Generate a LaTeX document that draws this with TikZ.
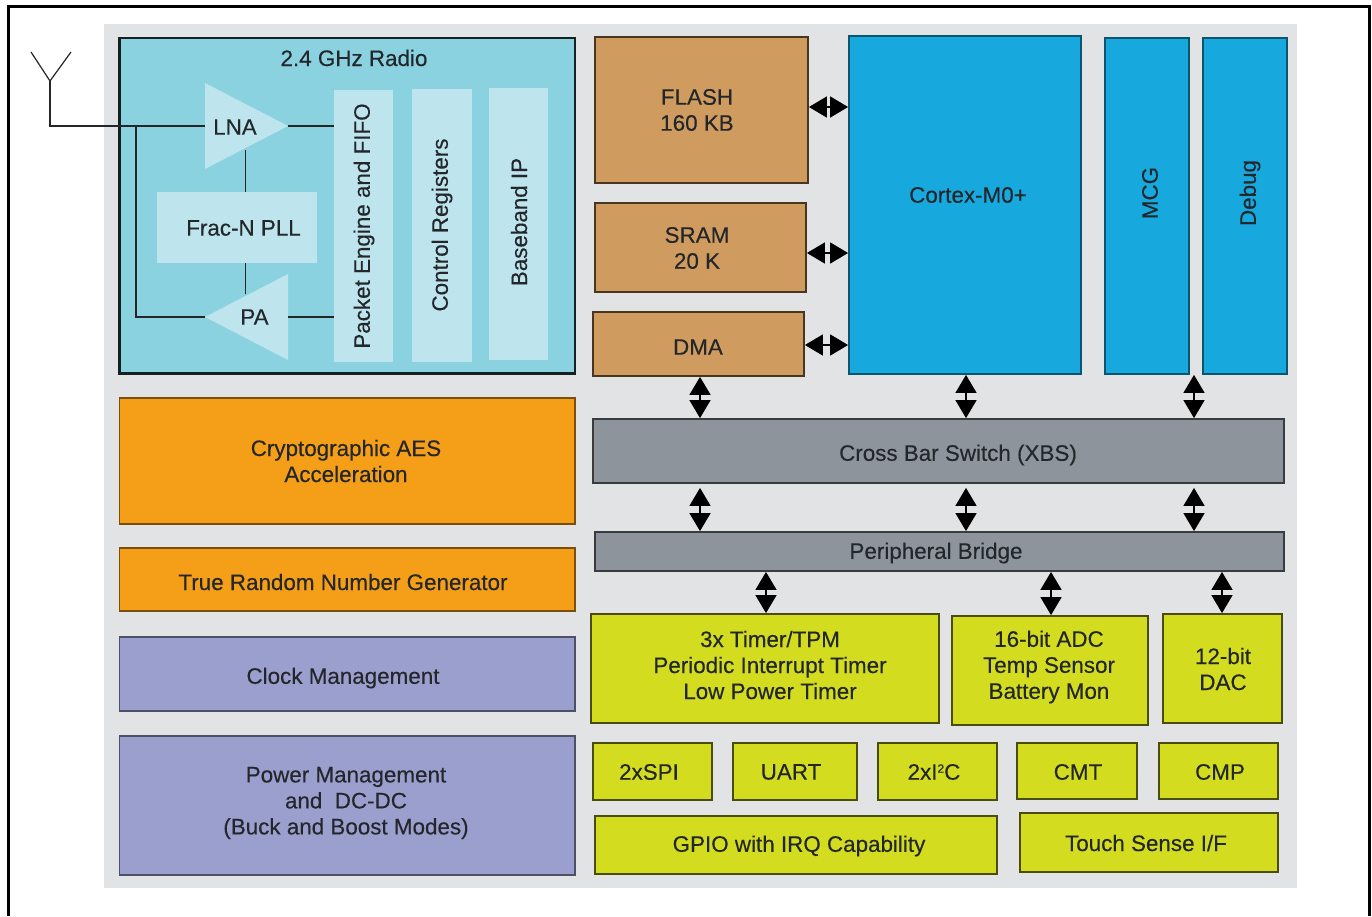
\documentclass[tikz,border=0pt]{standalone}
\usepackage{fontspec}
\setmainfont{Liberation Sans}[RawFeature={embolden=0.3}]
\usetikzlibrary{fit,arrows.meta}
\definecolor{panelc}{HTML}{E2E3E4}
\definecolor{radioc}{HTML}{8AD2DF}
\definecolor{lightc}{HTML}{BEE5EE}
\definecolor{tanc}{HTML}{CF9B5E}
\definecolor{bluec}{HTML}{17A9DD}
\definecolor{greyc}{HTML}{8E949B}
\definecolor{yelc}{HTML}{D3DC1E}
\definecolor{orac}{HTML}{F59E17}
\definecolor{purc}{HTML}{9A9FCE}
\definecolor{txtc}{HTML}{23272B}
\tikzset{
  boxbase/.style={fit={#1},inner sep=0pt,line width=1.8pt,rectangle},
  radiobox/.style={draw=black!85!radioc,fill=radioc,line width=2.4pt},
  innerbox/.style={fill=lightc},
  tanbox/.style={draw=black!65!tanc,fill=tanc},
  bluebox/.style={draw=black!50!bluec,fill=bluec},
  greybox/.style={draw=black!60!greyc,fill=greyc},
  yelbox/.style={draw=black!65!yelc,fill=yelc},
  orabox/.style={draw=black!50!orac,fill=orac},
  purbox/.style={draw=black!50!purc,fill=purc},
  lbl/.style={inner sep=0pt,align=center,text=txtc,font=\fontsize{22.4}{26}\selectfont},
  wire/.style={line width=1.6pt,draw=black!85},
  dbl/.style={line width=1.4pt,{Triangle[length=18pt,width=21pt]}-{Triangle[length=18pt,width=21pt]}},
  frameline/.style={line width=3pt,draw=black}
}
% name, x1,y1,x2,y2, style, text, tx,ty
\newcommand\bx[9]{%
  \node[boxbase={(#2,#3)(#4,#5)},#6] (#1) {};
  \node[lbl] (#1t) at (#8,#9) {#7};}
\newcommand\vbx[9]{%
  \node[boxbase={(#2,#3)(#4,#5)},#6] (#1) {};
  \node[lbl,rotate=90] (#1t) at (#8,#9) {#7};}
\begin{document}
\begin{tikzpicture}[x=1pt,y=-1pt]
\useasboundingbox (0,0) rectangle (1372,916);
\fill[white] (0,0) rectangle (1372,916);
% frame
\coordinate (fbl) at (8,916);
\coordinate (ftl) at (8,6);
\coordinate (ftr) at (1369,6);
\coordinate (fbr) at (1369,916);
\draw[frameline] (fbl) -- (ftl) -- (ftr) -- (fbr);
% panel
\node[fit={(104,24)(1297,888)},inner sep=0pt,fill=panelc] (panel) {};
% radio
\bx{radio}{119.5}{38}{575}{373.5}{radiobox}{2.4 GHz Radio}{354}{58}
\coordinate (lnaA) at (205,83);
\coordinate (lnaB) at (205,169);
\coordinate (lnaTip) at (288,126);
\coordinate (paA) at (288,274);
\coordinate (paB) at (288,360);
\coordinate (paTip) at (205,317);
\fill[lightc] (lnaA) -- (lnaTip) -- (lnaB) -- cycle;
\fill[lightc] (paA) -- (paTip) -- (paB) -- cycle;
\node[boxbase={(157,192)(317,263)},innerbox,line width=0pt] (pll) {};
\node[lbl] (pllt) at (243.5,228) {Frac-N PLL};
\node[boxbase={(334,90)(393,362)},innerbox,line width=0pt] (pkt) {};
\node[lbl,rotate=90] (pktt) at (364,226) {Packet Engine and FIFO};
\node[boxbase={(412,89)(471.5,362)},innerbox,line width=0pt] (ctl) {};
\node[lbl,rotate=90] (ctlt) at (442,225) {Control Registers};
\node[boxbase={(489,88)(548,360)},innerbox,line width=0pt] (bb) {};
\node[lbl,rotate=90] (bbt) at (519,222) {Baseband IP};
\node[lbl] (lna) at (235,127) {LNA};
\node[lbl] (pa) at (254.5,317) {PA};
% antenna and wires
\coordinate (antL) at (31,52);
\coordinate (antR) at (71,52);
\coordinate (antV) at (50,81);
\coordinate (antC) at (50,126);
\coordinate (br) at (136,126);
\coordinate (brD) at (136,317);
\coordinate (lnaBot) at (245.5,150);
\coordinate (paTop) at (245.5,294);
\draw[wire,line width=1.2pt] (antL) -- (antV) -- (antR);
\draw[wire,line width=1.2pt] (antV) -- (antC) -- (br);
\draw[wire] (br) -- (lnaA |- br);
\draw[wire] (br) -- (brD) -- (paTip);
\draw[wire] (lnaTip) -- (pkt.west |- lnaTip);
\draw[wire] (paB |- paTip) -- (pkt.west |- paTip);
\draw[wire] (lnaBot) -- (lnaBot |- pll.north);
\draw[wire] (paTop |- pll.south) -- (paTop);
% memory
\bx{flash}{595}{37}{808}{183}{tanbox}{FLASH\\160 KB}{697}{110}
\bx{sram}{595}{203}{806}{292}{tanbox}{SRAM\\20 K}{697}{248}
\bx{dma}{593}{312}{804}{376}{tanbox}{DMA}{698}{347}
% core
\bx{cortex}{849}{36}{1081}{374}{bluebox}{Cortex-M0+}{968}{195}
\vbx{mcg}{1105}{38}{1189}{374}{bluebox}{MCG}{1150}{193}
\vbx{debug}{1203}{38}{1287}{374}{bluebox}{Debug}{1250}{193}
% buses
\bx{xbs}{593}{419}{1284}{483}{greybox}{Cross Bar Switch (XBS)}{958}{455}
\bx{bridge}{595}{532}{1284}{571}{greybox}{Peripheral Bridge}{936}{553}
% peripherals
\bx{timer}{591}{614}{939}{723}{yelbox}{3x Timer/TPM\\Periodic Interrupt Timer\\Low Power Timer}{770}{665}
\bx{adc}{952}{616}{1148}{725}{yelbox}{16-bit ADC\\Temp Sensor\\Battery Mon}{1049}{667}
\bx{dac}{1163}{614}{1282}{723}{yelbox}{12-bit\\DAC}{1223}{669}
\bx{spi}{593}{743}{712}{800}{yelbox}{2xSPI}{649}{772}
\bx{uart}{733}{743}{857}{800}{yelbox}{UART}{791}{772}
\bx{iic}{878}{743}{997}{800}{yelbox}{2xI\raisebox{7pt}{\fontsize{12}{12}\selectfont 2}C}{934}{772}
\bx{cmt}{1017}{743}{1137}{799}{yelbox}{CMT}{1078}{772}
\bx{cmp}{1159}{743}{1278}{799}{yelbox}{CMP}{1220}{772}
\bx{gpio}{595}{816}{997}{874}{yelbox}{GPIO with IRQ Capability}{799}{846}
\bx{touch}{1020}{813}{1278}{872}{yelbox}{Touch Sense I/F}{1146}{843}
% left column
\bx{aes}{119.5}{398}{575}{524}{orabox}{Cryptographic AES\\Acceleration}{346}{461}
\bx{trng}{119.5}{548}{575}{611}{orabox}{True Random Number Generator}{343}{582}
\bx{clock}{119.5}{637}{575}{711}{purbox}{Clock Management}{343}{678}
\bx{power}{119.5}{736}{575}{875}{purbox}{Power Management\\and\ \ DC-DC\\(Buck and Boost Modes)}{346}{803}
% double arrows
\coordinate (rowA) at (0,107);
\coordinate (rowB) at (0,253);
\coordinate (rowC) at (0,345);
\coordinate (colA) at (700,0);
\coordinate (colB) at (966,0);
\coordinate (colC) at (1194,0);
\coordinate (colD) at (766,0);
\coordinate (colE) at (1051,0);
\coordinate (colF) at (1222,0);
\draw[dbl] (flash.east |- rowA) -- (cortex.west |- rowA);
\draw[dbl] (sram.east |- rowB) -- (cortex.west |- rowB);
\draw[dbl] (dma.east |- rowC) -- (cortex.west |- rowC);
\draw[dbl] (dma.south -| colA) -- (xbs.north -| colA);
\draw[dbl] (cortex.south -| colB) -- (xbs.north -| colB);
\draw[dbl] (mcg.south -| colC) -- (xbs.north -| colC);
\draw[dbl] ([yshift=-4pt]xbs.south -| colA) -- (bridge.north -| colA);
\draw[dbl] ([yshift=-4pt]xbs.south -| colB) -- (bridge.north -| colB);
\draw[dbl] ([yshift=-4pt]xbs.south -| colC) -- (bridge.north -| colC);
\draw[dbl] (bridge.south -| colD) -- (timer.north -| colD);
\draw[dbl] (bridge.south -| colE) -- (adc.north -| colE);
\draw[dbl] (bridge.south -| colF) -- (dac.north -| colF);
\end{tikzpicture}
\end{document}
